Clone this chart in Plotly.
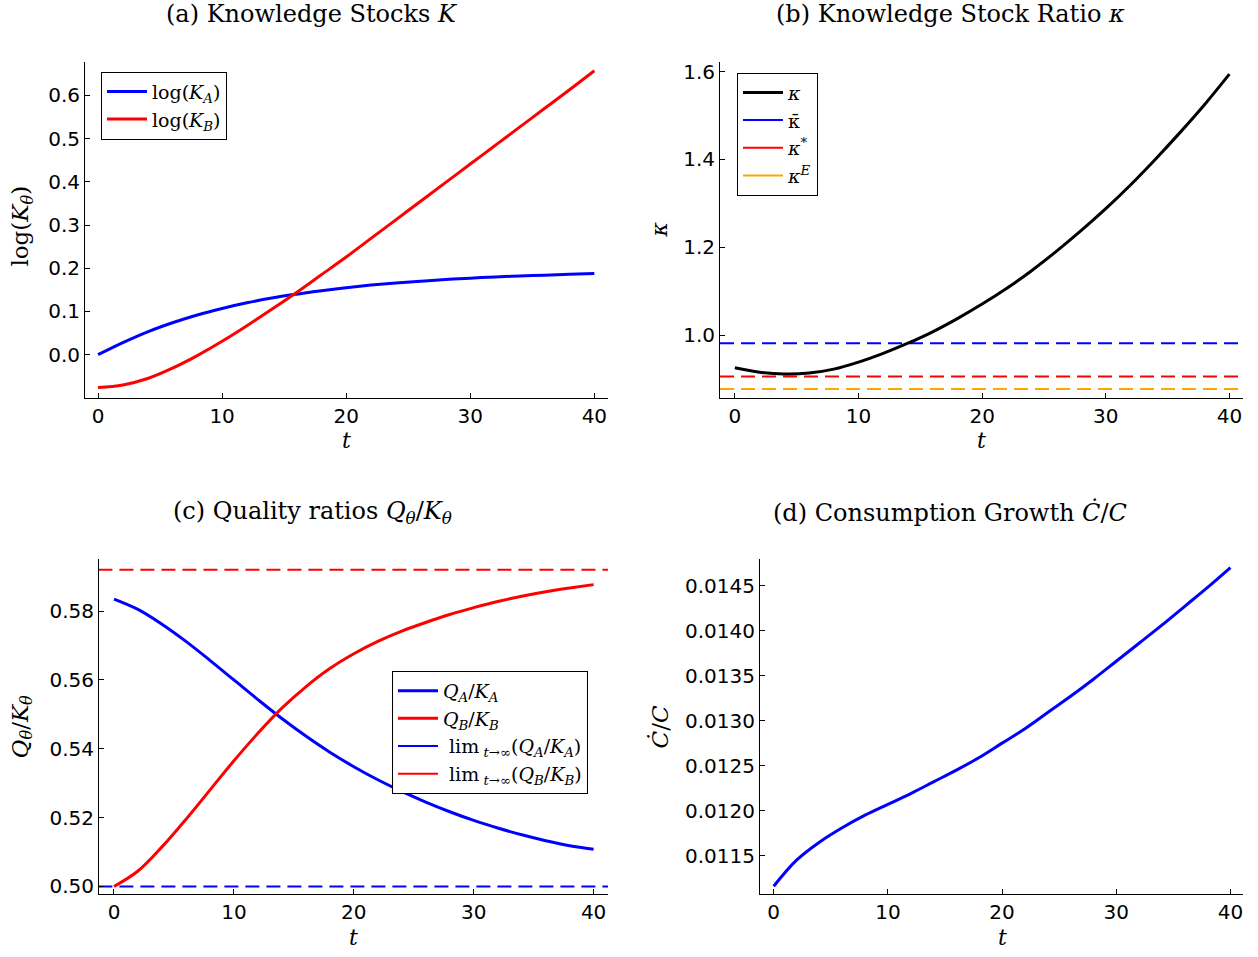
import plotly.graph_objects as go

W, H = 1258, 957

# ---------------- data ----------------
t = [0, 2, 4, 6, 8, 10, 12, 14, 16, 18, 20, 22, 24, 26, 28, 30, 32, 34, 36, 38, 40]

logKA = [0.000, 0.028, 0.053, 0.074, 0.092, 0.107, 0.120, 0.131, 0.140, 0.148, 0.155,
         0.161, 0.166, 0.170, 0.174, 0.177, 0.180, 0.182, 0.184, 0.186, 0.188]
logKB = [-0.076, -0.070, -0.055, -0.031, -0.002, 0.031, 0.067, 0.105, 0.144, 0.185, 0.226,
         0.269, 0.312, 0.355, 0.398, 0.441, 0.484, 0.527, 0.570, 0.613, 0.657]

kappa = [0.926, 0.916, 0.912, 0.914, 0.923, 0.939, 0.959, 0.982, 1.008, 1.038, 1.071,
         1.107, 1.147, 1.191, 1.238, 1.288, 1.342, 1.400, 1.461, 1.525, 1.594]
kappa_bar = 0.982
kappa_star = 0.906
kappa_E = 0.878

QA_KA = [0.5835, 0.5805, 0.5762, 0.5712, 0.5657, 0.5600, 0.5543, 0.5488, 0.5437, 0.5390, 0.5348,
         0.5310, 0.5276, 0.5245, 0.5217, 0.5192, 0.5170, 0.5150, 0.5133, 0.5118, 0.5108]
QB_KB = [0.5000, 0.5045, 0.5115, 0.5195, 0.5280, 0.5365, 0.5445, 0.5518, 0.5580, 0.5633, 0.5676,
         0.5712, 0.5742, 0.5767, 0.5790, 0.5810, 0.5828, 0.5843, 0.5856, 0.5867, 0.5877]
QA_lim = 0.500
QB_lim = 0.592

Cgrowth = [0.01116, 0.01145, 0.01165, 0.01181, 0.01195, 0.01207, 0.01219, 0.01232, 0.01245,
           0.01259, 0.01275, 0.01291, 0.01309, 0.01327, 0.01346, 0.01366, 0.01386, 0.01406,
           0.01427, 0.01448, 0.01470]

xticks = [0, 10, 20, 30, 40]
yticks_a = [0.0, 0.1, 0.2, 0.3, 0.4, 0.5, 0.6]
yticks_b = [1.0, 1.2, 1.4, 1.6]
yticks_c = [0.50, 0.52, 0.54, 0.56, 0.58]
yticks_d = [0.0115, 0.0120, 0.0125, 0.0130, 0.0135, 0.0140, 0.0145]

BLUE, RED, ORANGE, BLACK = "rgb(0,0,255)", "rgb(255,0,0)", "rgb(255,165,0)", "rgb(0,0,0)"
SERIF = "DejaVu Serif"
SANS = "DejaVu Sans"
DASH = "14px,7px"

fig = go.Figure()

def px_x(p):
    return p / W

def px_y(p):
    return 1 - p / H

def line(x, y, color, width, ax, dash=None, name=None, legend=None, show=False, smooth=True):
    fig.add_trace(go.Scatter(x=x, y=y, mode="lines", name=name,
                             line=dict(color=color, width=width, dash=dash,
                                       shape="spline" if smooth else "linear", smoothing=1.0),
                             xaxis="x" + ax, yaxis="y" + ax,
                             legend=legend, showlegend=show, hoverinfo="skip"))

def legend_only(color, width, name, legend, ax):
    fig.add_trace(go.Scatter(x=[None], y=[None], mode="lines", name=name,
                             line=dict(color=color, width=width),
                             xaxis="x" + ax, yaxis="y" + ax,
                             legend=legend, showlegend=True))

# (a)
line(t, logKA, BLUE, 3, "", name="log(<i>K</i><sub><i>A</i></sub>)", legend="legend", show=True)
line(t, logKB, RED, 3, "", name="log(<i>K</i><sub><i>B</i></sub>)", legend="legend", show=True)
# (b)
xb = [-1.2, 41.2]
line(xb, [kappa_bar] * 2, BLUE, 2, "2", dash=DASH, smooth=False)
line(xb, [kappa_star] * 2, RED, 2, "2", dash=DASH, smooth=False)
line(xb, [kappa_E] * 2, ORANGE, 2, "2", dash=DASH, smooth=False)
line(t, kappa, BLACK, 3, "2", name="<i>κ</i>", legend="legend2", show=True)
legend_only(BLUE, 2, "κ\u0304", "legend2", "2")
legend_only(RED, 2, "<i>κ</i><sup>*</sup>", "legend2", "2")
legend_only(ORANGE, 2, "<i>κ</i><sup><i>E</i></sup>", "legend2", "2")
# (c)
xc = [-1.3, 41.3]
line(xc, [QA_lim] * 2, BLUE, 2, "3", dash=DASH, smooth=False)
line(xc, [QB_lim] * 2, RED, 2, "3", dash=DASH, smooth=False)
line(t, QA_KA, BLUE, 3, "3", name="<i>Q</i><sub><i>A</i></sub>/<i>K</i><sub><i>A</i></sub>", legend="legend3", show=True)
line(t, QB_KB, RED, 3, "3", name="<i>Q</i><sub><i>B</i></sub>/<i>K</i><sub><i>B</i></sub>", legend="legend3", show=True)
legend_only(BLUE, 2, " lim<sub> <i>t</i>→∞</sub>(<i>Q</i><sub><i>A</i></sub>/<i>K</i><sub><i>A</i></sub>)", "legend3", "3")
legend_only(RED, 2, " lim<sub> <i>t</i>→∞</sub>(<i>Q</i><sub><i>B</i></sub>/<i>K</i><sub><i>B</i></sub>)", "legend3", "3")
# (d)
line(t, Cgrowth, BLUE, 3, "4")

def xax(domain, anchor, rng):
    return dict(domain=domain, anchor=anchor, range=rng, tickvals=xticks,
                showline=True, linecolor="black", linewidth=1, mirror=False,
                ticks="inside", ticklen=5, tickcolor="black", showgrid=False, zeroline=False,
                tickfont=dict(family=SANS, size=20, color="black"))

def yax(domain, anchor, rng, vals, fmt):
    return dict(domain=domain, anchor=anchor, range=rng, tickvals=vals,
                ticktext=[format(v, fmt) for v in vals],
                showline=True, linecolor="black", linewidth=1, mirror=False,
                ticks="inside", ticklen=5, tickcolor="black", showgrid=False, zeroline=False,
                tickfont=dict(family=SANS, size=20, color="black"))

xa = [px_x(85), px_x(608)]
xb_d = [px_x(720), px_x(1243)]
xc_d = [px_x(99), px_x(608)]
xd_d = [px_x(760), px_x(1243)]
ytop = [px_y(398), px_y(60)]
ybot = [px_y(898), px_y(561)]

legend_common = dict(bgcolor="white", bordercolor="black", borderwidth=1,
                     xanchor="left", yanchor="top", xref="paper", yref="paper",
                     font=dict(family=SERIF, size=19, color="black"),
                     tracegroupgap=0, itemwidth=40)

fig.update_layout(
    width=W, height=H, margin=dict(l=0, r=0, t=0, b=0),
    paper_bgcolor="white", plot_bgcolor="white", showlegend=True,
    xaxis=xax(xa, "y", [-1.05, 41.1]),
    yaxis=yax(ytop, "x", [-0.099, 0.678], yticks_a, ".1f"),
    xaxis2=xax(xb_d, "y2", [-1.2, 41.1]),
    yaxis2=yax(ytop, "x2", [0.8585, 1.6225], yticks_b, ".1f"),
    xaxis3=xax(xc_d, "y3", [-1.25, 41.2]),
    yaxis3=yax(ybot, "x3", [0.4977, 0.5950], yticks_c, ".2f"),
    xaxis4=xax(xd_d, "y4", [-1.2, 41.1]),
    yaxis4=yax(ybot, "x4", [0.01107, 0.01479], yticks_d, ".4f"),
    legend=dict(legend_common, x=px_x(101), y=px_y(70)),
    legend2=dict(legend_common, x=px_x(737), y=px_y(71)),
    legend3=dict(legend_common, x=px_x(392), y=px_y(673)),
)

def ann(text, x, y, size, angle=0):
    fig.add_annotation(text=text, x=px_x(x), y=px_y(y), xref="paper", yref="paper",
                       showarrow=False, xanchor="center", yanchor="middle", textangle=angle,
                       font=dict(family=SERIF, size=size, color="black"))

# titles
ann("(a) Knowledge Stocks <i>K</i>", 312, 12, 24)
ann("(b) Knowledge Stock Ratio <i>κ</i>", 950, 12, 24)
ann("(c) Quality ratios <i>Q</i><sub><i>θ</i></sub>/<i>K</i><sub><i>θ</i></sub>", 312, 514, 24)
ann("(d) Consumption Growth <i>C\u0307</i>/<i>C</i>", 950, 514, 24)
# axis titles
ann("<i>t</i>", 346, 441, 22)
ann("<i>t</i>", 981, 441, 22)
ann("<i>t</i>", 353, 941, 22)
ann("<i>t</i>", 1002, 941, 22)
ann("log(<i>K</i><sub><i>θ</i></sub>)", 22, 226, 23, -90)
ann("<i>κ</i>", 660, 229, 22, -90)
ann("<i>Q</i><sub><i>θ</i></sub>/<i>K</i><sub><i>θ</i></sub>", 22, 729, 23, -90)
ann("<i>C\u0307</i>/<i>C</i>", 660, 730, 23, -90)

fig.write_html("out.html")
